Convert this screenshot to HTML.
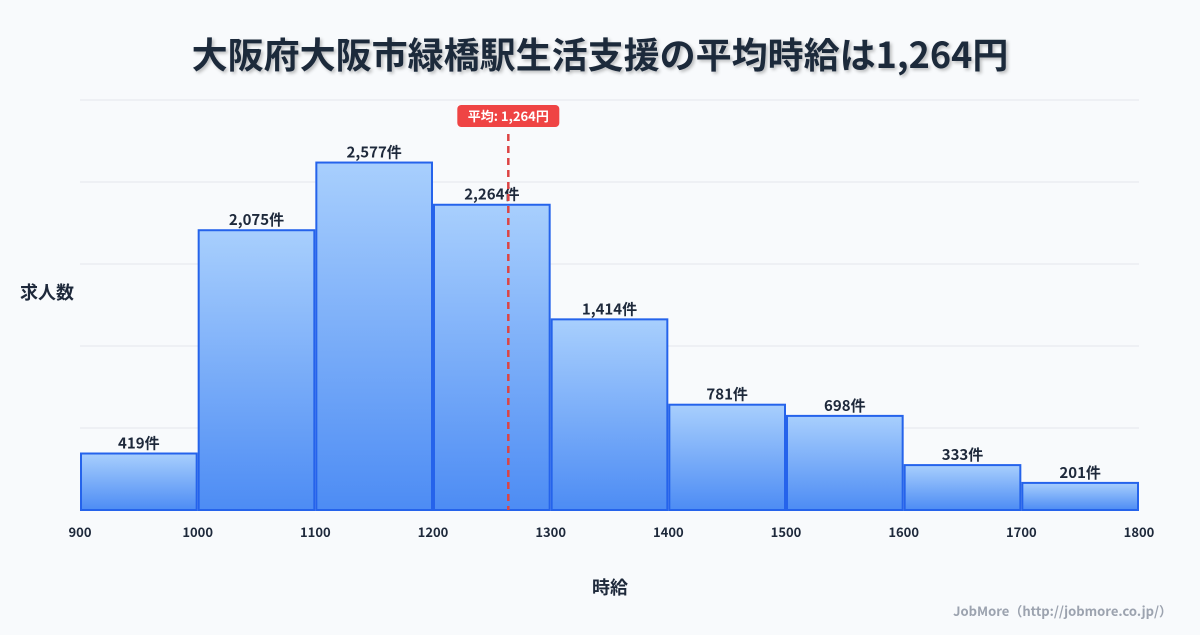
<!DOCTYPE html>
<html><head><meta charset="utf-8">
<style>
body{margin:0;background:#f8fafc;font-family:"Noto Sans CJK JP","Liberation Sans",sans-serif;}
svg text{font-family:"Noto Sans CJK JP","Liberation Sans",sans-serif;}
</style></head>
<body>
<svg width="1200" height="630" viewBox="0 0 1200 630" xmlns="http://www.w3.org/2000/svg">
<defs>
<linearGradient id="g" x1="0" y1="0" x2="0" y2="1">
<stop offset="0" stop-color="#a8cffd"/><stop offset="1" stop-color="#4d8cf4"/>
</linearGradient>
<filter id="sh"><feDropShadow dx="2" dy="2" stdDeviation="1.5" flood-color="#000" flood-opacity="0.25"/></filter>
</defs>
<rect width="1200" height="630" fill="#f8fafc"/>
<text x="600" y="68" text-anchor="middle" font-size="36" font-weight="bold" fill="#1e293b" filter="url(#sh)">大阪府大阪市緑橋駅生活支援の平均時給は1,264円</text>
<g id="grid"></g>
<g id="bars"></g>
<g id="xt"></g>
<g id="mean"></g>
<text x="20" y="299" text-anchor="start" font-size="18" font-weight="bold" fill="#1e293b">求人数</text>
<text x="610" y="594" text-anchor="middle" font-size="18" font-weight="bold" fill="#1e293b">時給</text>
<text x="1172" y="616" text-anchor="end" font-size="13" font-weight="bold" fill="#9ca3af">JobMore（http://jobmore.co.jp/）</text>
</svg>
<script>
const binStarts=[900,1000,1100,1200,1300,1400,1500,1600,1700];
const counts=[419,2075,2577,2264,1414,781,698,333,201];
const xTicks=[900,1000,1100,1200,1300,1400,1500,1600,1700,1800];
const meanValue=1264;
const NS="http://www.w3.org/2000/svg";
const x0=80,x1=1139,yB=510,yT=100;
const xMin=900,xMax=1800,yMax=Math.max(...counts)*1.18;
const X=v=>x0+(v-xMin)/(xMax-xMin)*(x1-x0);
const Y=v=>yB-v/yMax*(yB-yT);
function mk(t,a,p){const e=document.createElementNS(NS,t);for(const k in a)e.setAttribute(k,a[k]);p.appendChild(e);return e;}
const grid=document.getElementById('grid');
for(let i=0;i<=5;i++){const y=yB-i*(yB-yT)/5;const l=mk('line',{x1:x0,x2:x1,y1:y,y2:y,stroke:'#e5e7eb','stroke-width':1},grid);

}
const bars=document.getElementById('bars');
binStarts.forEach((s,i)=>{const xa=X(s)+1,xb=X(s+100)-1,y=Y(counts[i]);
const r=mk('rect',{x:xa,y:y,width:xb-xa,height:yB-y,fill:'url(#g)',stroke:'#2563eb','stroke-width':2},bars);


const t=mk('text',{x:(xa+xb)/2,y:y-5,'text-anchor':'middle','font-size':15,'font-weight':'bold',fill:'#1e293b'},bars);
t.textContent=counts[i].toLocaleString('en-US')+'件';

});
const xt=document.getElementById('xt');
xTicks.forEach(v=>{const t=mk('text',{x:X(v),y:537,'text-anchor':'middle','font-size':13,'font-weight':'bold',fill:'#1e293b'},xt);
t.textContent=v;

});
const m=document.getElementById('mean');const mx=X(meanValue);
const ml=mk('line',{x1:mx,x2:mx,y1:134,y2:yB,stroke:'#dc4444','stroke-width':2.5,'stroke-dasharray':'7,5'},m);


const mb=mk('rect',{x:mx-51,y:105,width:102,height:22,rx:4,fill:'#ef4444'},m);


const mt=mk('text',{x:mx,y:121,'text-anchor':'middle','font-size':13,'font-weight':'bold',fill:'#fff'},m);
mt.textContent='平均: '+meanValue.toLocaleString('en-US')+'円';


</script>
</body></html>
